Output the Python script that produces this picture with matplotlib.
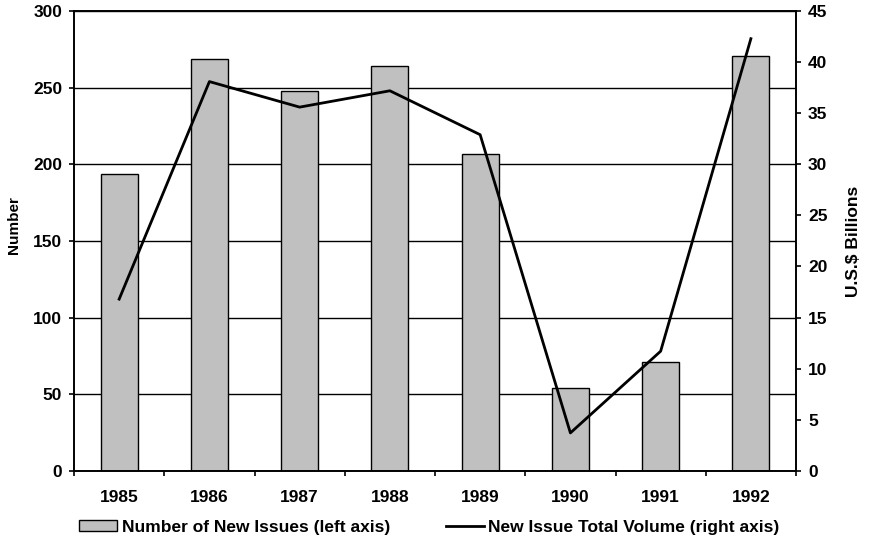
import matplotlib.pyplot as plt
import numpy as np
from matplotlib.patches import Patch
from matplotlib.lines import Line2D

plt.rcParams['font.family'] = ['Liberation Sans', 'DejaVu Sans']
plt.rcParams['font.weight'] = 'bold'

years = ['1985', '1986', '1987', '1988', '1989', '1990', '1991', '1992']
new_issues = [194, 269, 248, 264, 207, 54, 71, 271]
volume_bn = [16.8, 38.1, 35.6, 37.2, 32.9, 3.7, 11.7, 42.3]

FS = 12.5
BAR_GREY = '#c0c0c0'

fig = plt.figure(figsize=(8.69, 5.56), dpi=100)
ax = fig.add_axes([0.0852, 0.1534, 0.8308, 0.8266])
x = np.arange(len(years))

# bars on the left axis
ax.bar(x, new_issues, width=0.41, color=BAR_GREY, edgecolor='black', linewidth=1.0, zorder=2)
ax.set_xlim(-0.5, len(years) - 0.5)
ax.set_ylim(0, 300)
ax.set_yticks(range(0, 301, 50))
ax.set_xticks(x)
ax.set_xticklabels(years, fontsize=FS, fontweight='bold')
# category separators as minor ticks
ax.set_xticks(np.arange(-0.5, len(years)), minor=True)
ax.tick_params(axis='x', which='major', length=0, pad=14)
ax.tick_params(axis='x', which='minor', length=3.6, width=1.2, direction='out')
ax.tick_params(axis='y', length=3.6, width=1.2, direction='out', labelsize=FS, pad=5)
for lbl in ax.get_yticklabels():
    lbl.set_fontweight('bold')
ax.yaxis.grid(True, color='black', linewidth=1.0, zorder=0)
ax.set_axisbelow(True)
ax.set_ylabel('Number', fontsize=11, fontweight='bold')
ax.yaxis.set_label_coords(-0.074, 0.535)
for sp in ax.spines.values():
    sp.set_linewidth(1.2)

# volume line on the right axis
ax2 = ax.twinx()
ax2.plot(x, volume_bn, color='black', linewidth=2.0, zorder=3)
ax2.set_ylim(0, 45)
ax2.set_yticks(range(0, 46, 5))
ax2.tick_params(axis='y', length=3.6, width=1.2, direction='out', labelsize=FS, pad=5)
for lbl in ax2.get_yticklabels():
    lbl.set_fontweight('bold')
ax2.set_ylabel('U.S.$ Billions', fontsize=FS, fontweight='bold')
ax2.yaxis.set_label_coords(1.069, 0.5)
for sp in ax2.spines.values():
    sp.set_linewidth(1.2)

handles = [
    Patch(facecolor=BAR_GREY, edgecolor='black', linewidth=1.0),
    Line2D([0], [0], color='black', linewidth=2.0),
]
labels = ['Number of New Issues (left axis)', 'New Issue Total Volume (right axis)']
fig.legend(handles, labels, loc='center', bbox_to_anchor=(0.494, 0.052), ncol=2,
           frameon=False, handlelength=2.2, handleheight=0.6, handletextpad=0.25,
           columnspacing=3.2, prop={'weight': 'bold', 'size': FS})

fig.savefig('out.png', dpi=100)
